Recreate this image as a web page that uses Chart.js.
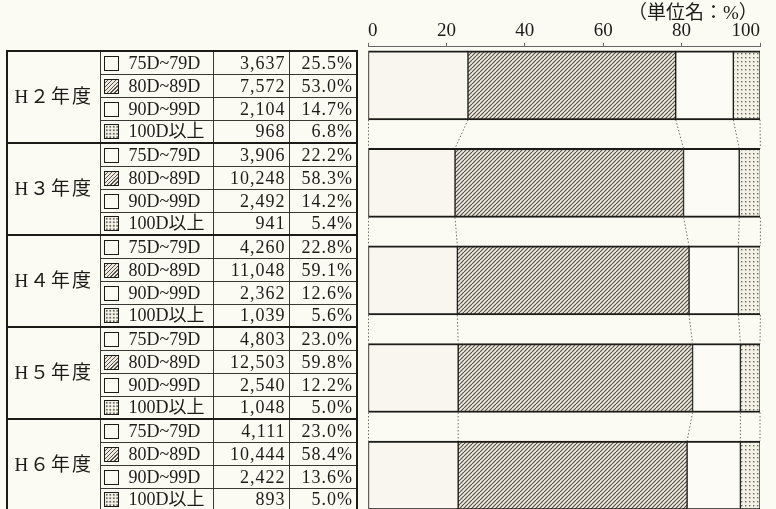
<!DOCTYPE html>
<html>
<head>
<meta charset="utf-8">
<script src="https://cdn.jsdelivr.net/npm/chart.js@4.4.1/dist/chart.umd.min.js"></script>
<style>
body{margin:0;width:776px;height:509px;overflow:hidden;background:#fbfaf3;position:relative;
  font-family:"Liberation Serif","Noto Sans CJK JP",serif;color:#1d1b18}
#chart{position:absolute;left:0;top:0}
#unit{position:absolute;left:628px;top:3px;font-size:19px;line-height:20px}
#tbl{position:absolute;left:6px;top:50px;border-collapse:collapse;table-layout:fixed;border:2px solid #1d1b18}
#tbl td{border:1px solid #3a3733;padding:0 3px;font-size:18px;line-height:20px;white-space:nowrap;overflow:hidden}
#tbl tr{height:23px}
#tbl tr.first td{border-top:2px solid #1d1b18}
#tbl td.yr{text-align:center;font-size:19px;letter-spacing:2px}
#tbl td.num{text-align:right;letter-spacing:1px}
.sw{display:inline-block;width:13px;height:13px;border:1.5px solid #1d1b18;vertical-align:-2px;margin-right:10px;background:#fbfaf3}
.sw.h{background:repeating-linear-gradient(135deg,#efebe0 0 1.5px,#57534b 1.5px 2.8px)}
.sw.d{background:radial-gradient(circle,#6a665e 0.8px,#f4f1e7 1px) 0 0/3.5px 3.5px}
</style>
</head>
<body>
<canvas id="chart" width="776" height="509"></canvas>
<div id="unit">（単位名：%）</div>
<table id="tbl">
<colgroup><col style="width:93px"><col style="width:113px"><col style="width:76px"><col style="width:68px"></colgroup>
<tbody id="rows"></tbody>
</table>
<script>
const years = ['H２年度', 'H３年度', 'H４年度', 'H５年度', 'H６年度'];
const ranges = ['75D~79D', '80D~89D', '90D~99D', '100D以上'];
const count75 = [3637, 3906, 4260, 4803, 4111];
const count80 = [7572, 10248, 11048, 12503, 10444];
const count90 = [2104, 2492, 2362, 2540, 2422];
const count100 = [968, 941, 1039, 1048, 893];
const pct75 = [25.5, 22.2, 22.8, 23.0, 23.0];
const pct80 = [53.0, 58.3, 59.1, 59.8, 58.4];
const pct90 = [14.7, 14.2, 12.6, 12.2, 13.6];
const pct100 = [6.8, 5.4, 5.6, 5.0, 5.0];
const xTicks = [0, 20, 40, 60, 80, 100];

const counts = [count75, count80, count90, count100];
const pcts = [pct75, pct80, pct90, pct100];
const swatchClass = ['', 'h', '', 'd'];

// table on the left
let html = '';
years.forEach((yr, i) => {
  ranges.forEach((r, k) => {
    html += '<tr' + (k == 0 ? ' class="first"' : '') + '>';
    if (k == 0) html += '<td class="yr" rowspan="4">' + yr + '</td>';
    html += '<td><span class="sw ' + swatchClass[k] + '"></span>' + r + '</td>';
    html += '<td class="num">' + counts[k][i].toLocaleString('en-US') + '</td>';
    html += '<td class="num">' + pcts[k][i].toFixed(1) + '%</td></tr>';
  });
});
document.getElementById('rows').innerHTML = html;

let kanvas = document.getElementById('chart');
let ctx = kanvas.getContext('2d');

function tile(draw) {
  let c = document.createElement('canvas');
  c.width = 4; c.height = 4;
  draw(c.getContext('2d'));
  return ctx.createPattern(c, 'repeat');
}
let hatch = tile(g => {
  g.fillStyle = '#efebe0'; g.fillRect(0, 0, 4, 4);
  g.strokeStyle = '#57534b'; g.lineWidth = 1.2;
  [[-4, 4, 0, 0], [0, 4, 4, 0], [4, 4, 8, 0]].forEach(p => {
    g.beginPath(); g.moveTo(p[0], p[1]); g.lineTo(p[2], p[3]); g.stroke();
  });
});
let dots = tile(g => {
  g.fillStyle = '#f4f1e7'; g.fillRect(0, 0, 4, 4);
  g.fillStyle = '#6a665e'; g.fillRect(1, 1, 1.4, 1.4);
});
const fills = ['#f8f6ee', hatch, '#fcfbf6', dots];

// dotted lines joining segment edges from one bar to the next
const seriesLines = {
  id: 'seriesLines',
  afterDatasetsDraw(chart) {
    const c = chart.ctx;
    const metas = chart.data.datasets.map((d, k) => chart.getDatasetMeta(k));
    const edges = i => [metas[0].data[i].base].concat(metas.map(m => m.data[i].x));
    c.save();
    c.setLineDash([1.5, 2]);
    c.strokeStyle = '#6e6a62';
    c.lineWidth = 1;
    for (let i = 0; i < years.length - 1; i++) {
      const e0 = metas[0].data[i], e1 = metas[0].data[i + 1];
      const y0 = e0.y + e0.height / 2, y1 = e1.y - e1.height / 2;
      const b = edges(i + 1);
      edges(i).forEach((x, j) => {
        c.beginPath(); c.moveTo(x, y0); c.lineTo(b[j], y1); c.stroke();
      });
    }
    c.restore();
  }
};

let grafik = new Chart(kanvas, {
  type: 'bar',
  data: {
    datasets: pcts.map((s, k) => ({
      label: ranges[k],
      data: s.map((v, i) => ({x: v, y: i})),
      backgroundColor: fills[k],
      borderColor: '#1d1b18',
      borderWidth: {top: 2, bottom: 2, left: 1, right: 1},
      borderSkipped: false,
      barThickness: 69
    }))
  },
  options: {
    indexAxis: 'y',
    responsive: false,
    animation: false,
    devicePixelRatio: 1,
    layout: {padding: {left: 368, right: 16, top: 20, bottom: 0}},
    plugins: {legend: {display: false}, tooltip: {enabled: false}},
    scales: {
      x: {
        position: 'top',
        stacked: true,
        min: 0,
        max: 100,
        afterBuildTicks: s => { s.ticks = xTicks.map(v => ({value: v})); },
        ticks: {font: {family: 'Liberation Serif', size: 19}, color: '#1d1b18', padding: 0, maxRotation: 0, align: 'inner'},
        grid: {drawOnChartArea: false, tickLength: 4, color: '#666'},
        border: {color: '#666', width: 1}
      },
      y: {type: 'linear', stacked: true, reverse: true, offset: false, min: -0.395, max: 4.343, display: false}
    }
  },
  plugins: [seriesLines]
});
</script>
</body>
</html>
